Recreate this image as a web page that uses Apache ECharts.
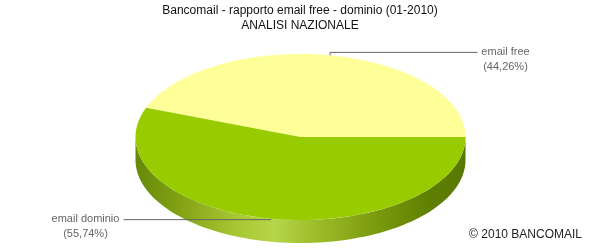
<!DOCTYPE html>
<html>
<head>
<meta charset="utf-8">
<script src="https://cdn.jsdelivr.net/npm/echarts@6/dist/echarts.min.js"></script>
<style>html,body{margin:0;padding:0;background:#fff}#c{width:600px;height:250px}</style>
</head>
<body>
<div id="c"></div>
<script>
var categories = ['email free', 'email dominio'];
var values = [44.26, 55.74];
var percentLabels = ['(44,26%)', '(55,74%)'];

var topColors = ['#FFFF99', '#99CC00'];
var chart = echarts.init(document.getElementById('c'), null, {renderer: 'canvas'});

var total = values.reduce(function (a, b) { return a + b; }, 0);
var starts = [];
(function () { var acc = 0; for (var i = 0; i < values.length; i++) { starts.push(acc); acc += values[i]; } })();

function renderItem(params, api) {
  var i = params.dataIndex;
  var W = api.getWidth();
  var cx = W / 2 + 0.5, cy = 137, rx = 165, ry = 83, depth = 23;
  var a0 = starts[i] / total * 2 * Math.PI;
  var a1 = (starts[i] + api.value(0)) / total * 2 * Math.PI;
  function pt(a, dy) { return [cx + rx * Math.cos(a), cy - ry * Math.sin(a) + (dy || 0)]; }
  var children = [];
  var r0 = Math.max(a0, Math.PI), r1 = Math.min(a1, 2 * Math.PI);
  if (r1 > r0) {
    var pts = [], n = 80, k;
    for (k = 0; k <= n; k++) pts.push(pt(r0 + (r1 - r0) * k / n));
    for (k = n; k >= 0; k--) pts.push(pt(r0 + (r1 - r0) * k / n, depth));
    children.push({
      type: 'polygon', shape: {points: pts},
      style: {
        fill: new echarts.graphic.LinearGradient(0, 0, 1, 0, [
          {offset: 0, color: '#66880a'},
          {offset: 0.12, color: '#7f9f12'},
          {offset: 0.3, color: '#a6c632'},
          {offset: 0.42, color: '#b6d64a'},
          {offset: 0.55, color: '#9cbc2a'},
          {offset: 0.72, color: '#7c9c0e'},
          {offset: 0.9, color: '#5e7e02'},
          {offset: 1, color: '#587806'}
        ]),
        stroke: null
      }
    });
  }
  var tp = [[cx, cy]];
  var m = 120;
  for (var j = 0; j <= m; j++) tp.push(pt(a0 + (a1 - a0) * j / m));
  children.push({type: 'polygon', shape: {points: tp}, style: {fill: topColors[i], stroke: null}});
  var mid = (a0 + a1) / 2;
  var anc = pt(mid);
  var right = Math.cos(mid) >= 0;
  var lineY = Math.sin(mid) > 0 ? anc[1] - 3 : anc[1] + 1;
  var endX = right ? cx + 177 : cx - 177;
  children.push({
    type: 'polyline',
    shape: {points: [anc, [anc[0], lineY], [endX, lineY]]},
    style: {stroke: '#666666', lineWidth: 1, fill: null}
  });
  children.push({
    type: 'text',
    style: {
      text: categories[i] + '\n' + percentLabels[i],
      x: right ? endX + 28 : endX - 38,
      y: lineY - 8,
      align: 'center', verticalAlign: 'top',
      fontFamily: 'Liberation Sans, Arial, sans-serif', fontSize: 11, lineHeight: 15,
      fill: '#666666'
    }
  });
  return {type: 'group', children: children};
}

chart.setOption({
  animation: false,
  graphic: [{
    type: 'text', x: 300, y: 3,
    style: {
      text: 'Bancomail - rapporto email free - dominio (01-2010)\nANALISI NAZIONALE',
      align: 'center', verticalAlign: 'top',
      fontFamily: 'Liberation Sans, Arial, sans-serif', fontSize: 12, lineHeight: 15, fill: '#111'
    }
  }, {
    type: 'text', right: 18, top: 229,
    style: {text: '\u00a9 2010 BANCOMAIL', fontFamily: 'Liberation Sans, Arial, sans-serif', fontSize: 12, fill: '#222'}
  }],
  series: [{
    type: 'custom',
    coordinateSystem: 'none',
    renderItem: renderItem,
    data: values.map(function (v, i) { return {name: categories[i], value: [v]}; })
  }]
});
</script>
</body>
</html>
